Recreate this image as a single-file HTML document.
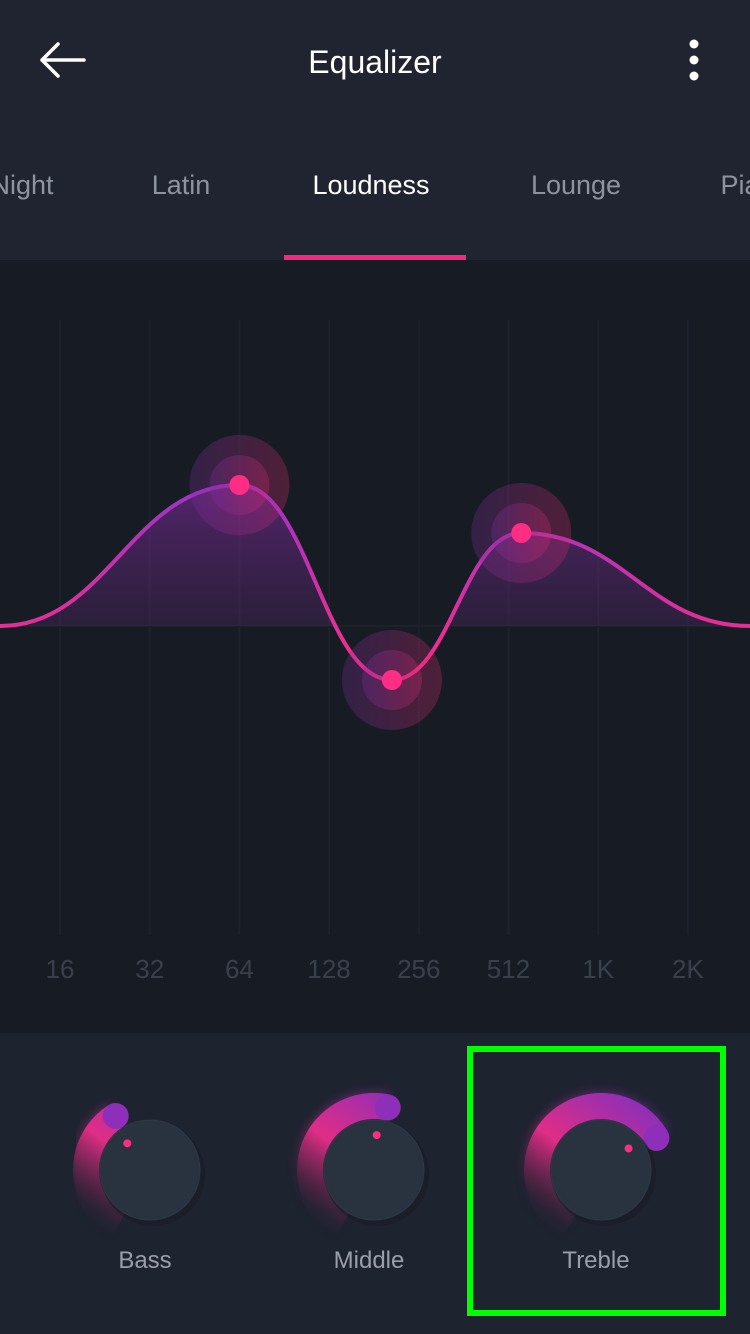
<!DOCTYPE html>
<html><head><meta charset="utf-8"><style>
html,body{margin:0;padding:0;width:750px;height:1334px;overflow:hidden;background:#1e2330;font-family:"Liberation Sans",sans-serif}
svg{display:block}
</style></head><body>
<svg width="750" height="1334" viewBox="0 0 750 1334">
<defs>
<linearGradient id="areaG" x1="0" y1="0" x2="0" y2="1"><stop offset="0" stop-color="#7a2a9a" stop-opacity="0.6"/><stop offset="1" stop-color="#6a2a80" stop-opacity="0.08"/></linearGradient>
<linearGradient id="lineG" gradientUnits="userSpaceOnUse" x1="0" y1="485" x2="0" y2="680"><stop offset="0" stop-color="#9a34c8"/><stop offset="1" stop-color="#ff2d84"/></linearGradient>
<linearGradient id="haloG" x1="0" y1="0" x2="1" y2="0"><stop offset="0" stop-color="#7a2fa0"/><stop offset="1" stop-color="#e0286c"/></linearGradient>
<clipPath id="above"><rect x="0" y="0" width="750" height="626"/></clipPath>
<filter id="glow" x="-30%" y="-30%" width="160%" height="160%"><feGaussianBlur stdDeviation="5"/></filter>
</defs>
<rect x="0" y="0" width="750" height="260" fill="#1f2430"/>
<g><path d="M42 60 H84 M42 60 L58 44 M42 60 L58 76" stroke="#fff" stroke-width="3.5" fill="none" stroke-linecap="round"/></g>
<text x="375" y="73" text-anchor="middle" fill="#fff" font-size="32">Equalizer</text>
<g fill="#fff"><circle cx="694" cy="44" r="4.5"/><circle cx="694" cy="60" r="4.5"/><circle cx="694" cy="76" r="4.5"/></g>
<g font-size="27" text-anchor="middle">
<text x="22" y="194" fill="#8e93a0">Night</text>
<text x="181" y="194" fill="#8e93a0">Latin</text>
<text x="371" y="194" fill="#fff">Loudness</text>
<text x="576" y="194" fill="#8e93a0">Lounge</text>
<text x="755" y="194" fill="#8e93a0">Piano</text>
</g>
<rect x="284" y="255" width="182" height="5" fill="#f7287f"/>
<rect x="0" y="260" width="750" height="773" fill="#171c24"/>
<g id="grid"></g>
<g id="chart"></g>
<rect x="0" y="1033" width="750" height="301" fill="#1e2330"/>
<g id="knobs"></g>
<rect x="470" y="1049" width="253" height="264" fill="none" stroke="#00ff00" stroke-width="6"/>
</svg>
<script>
const freqLabels=["16","32","64","128","256","512","1K","2K"];
const bandFreqs=[64,208,565];
const bandGains=[7.05,-2.7,4.65];
const knobNames=["Bass","Middle","Treble"];
const knobValues=[0.42,0.58,0.75];
const NS="http://www.w3.org/2000/svg";
function mk(t,a,p){const e=document.createElementNS(NS,t);for(const k in a)e.setAttribute(k,a[k]);p.appendChild(e);return e;}
const xS=f=>60+Math.log2(f/16)*89.7;
const yS=g=>626-g*20;
const grid=document.getElementById('grid');
freqLabels.forEach((l,i)=>{
  const x=60+i*89.7;
  const ln=mk('line',{x1:x,y1:320,x2:x,y2:935,stroke:'#1c222b','stroke-width':2},grid);
  
  
  const t=mk('text',{x:x,y:978,'text-anchor':'middle',fill:'#3a404b','font-size':26},grid);
  t.textContent=l;
  
  
});
const bl=mk('line',{x1:0,y1:626,x2:750,y2:626,stroke:'#1c222b','stroke-width':2},grid);


const pts=[[0,626]].concat(bandFreqs.map((f,i)=>[xS(f),yS(bandGains[i])])).concat([[750,626]]);
let d=`M${pts[0][0]},${pts[0][1]}`;
for(let i=1;i<pts.length;i++){const [x0,y0]=pts[i-1],[x1,y1]=pts[i];const dx=(x1-x0)*0.45;d+=` C${x0+dx},${y0} ${x1-dx},${y1} ${x1},${y1}`;}
const ch=document.getElementById('chart');
const area=mk('path',{d:d+' L750,626 L0,626 Z',fill:'url(#areaG)','clip-path':'url(#above)'},ch);


const line=mk('path',{d:d,fill:'none',stroke:'url(#lineG)','stroke-width':4},ch);


bandFreqs.forEach((f,i)=>{
  const x=xS(f),y=yS(bandGains[i]);
  const g=mk('g',{},ch);
  
  
  mk('circle',{cx:x,cy:y,r:50,fill:'url(#haloG)',opacity:0.28},g);
  mk('circle',{cx:x,cy:y,r:30,fill:'url(#haloG)',opacity:0.3},g);
  mk('circle',{cx:x,cy:y,r:10,fill:'#ff2d84'},g);
});
const kb=document.getElementById('knobs');
const defs=document.querySelector('defs');
const cxs=[150,374,601];
function pol(cx,cy,r,a){const t=a*Math.PI/180;return [cx+r*Math.sin(t),cy-r*Math.cos(t)];}
knobNames.forEach((n,i)=>{
  const cx=cxs[i],cy=1170;
  const gr=mk('linearGradient',{id:'arcG'+i,gradientUnits:'userSpaceOnUse',x1:cx-40,y1:cy+70,x2:cx+50,y2:cy-60},defs);
  mk('stop',{offset:0,'stop-color':'#1e2330','stop-opacity':0},gr);
  mk('stop',{offset:0.2,'stop-color':'#5a2448','stop-opacity':0.6},gr);
  mk('stop',{offset:0.5,'stop-color':'#e02d86'},gr);
  mk('stop',{offset:1,'stop-color':'#8d2fb8'},gr);
  const g=mk('g',{},kb);
  
  
  const a0=-150,a1=-150+knobValues[i]*280;
  const p0=pol(cx,cy,64,a0),p1=pol(cx,cy,64,a1);
  const large=(a1-a0)>180?1:0;
  const ad=`M${p0[0]},${p0[1]} A64,64 0 ${large} 1 ${p1[0]},${p1[1]}`;
  mk('path',{d:ad,fill:'none',stroke:'url(#arcG'+i+')','stroke-width':28,filter:'url(#glow)',opacity:0.45},g);
  mk('path',{d:ad,fill:'none',stroke:'url(#arcG'+i+')','stroke-width':26},g);
  mk('circle',{cx:p1[0],cy:p1[1],r:13,fill:'#8d2fb8'},g);
  mk('circle',{cx:cx+3,cy:cy+4,r:52,fill:'#161a22',opacity:0.5},g);
  mk('circle',{cx:cx,cy:cy,r:50,fill:'#29323f',stroke:'#2f3845','stroke-width':1},g);
  const dp=pol(cx,cy,35,a1-8);
  mk('circle',{cx:dp[0],cy:dp[1],r:4,fill:'#ff2d84'},g);
  const t=mk('text',{x:cx-5,y:1268,'text-anchor':'middle',fill:'#9a9faa','font-size':24},kb);
  t.textContent=n;
  
  
});
</script>
</body></html>
